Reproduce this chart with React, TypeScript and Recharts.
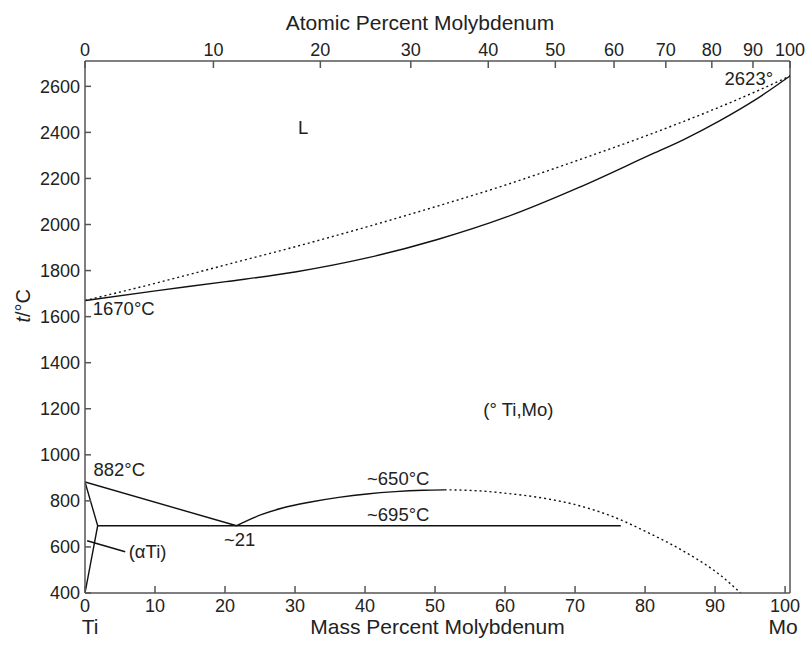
import React from "react";
import { LineChart, Line, XAxis, YAxis, ReferenceLine, ReferenceDot, Label } from "recharts";

const FONT = "'Liberation Sans', Arial, Helvetica, sans-serif";

// tick labels
const massTicks = [0, 10, 20, 30, 40, 50, 60, 70, 80, 90, 100];
const atomicTicks = [0, 10, 20, 30, 40, 50, 60, 70, 80, 90, 100];
const tempTicks = [400, 600, 800, 1000, 1200, 1400, 1600, 1800, 2000, 2200, 2400, 2600];

// atomic weights, for placing the atomic-percent ticks
const TI = 47.867;
const MO = 95.95;
const atomicToMass = (a: number) => ((a * MO) / (a * MO + (100 - a) * TI)) * 100;

// liquidus (dotted)
const liqMass = [0, 10, 20, 30, 40, 50, 60, 70, 80, 90, 95, 100];
const liqTemp = [1670, 1745, 1825, 1905, 1990, 2080, 2175, 2280, 2390, 2510, 2575, 2645];

// solidus (solid)
const solMass = [0, 10, 20, 30, 40, 50, 60, 70, 80, 85, 90, 95, 100];
const solTemp = [1670, 1712, 1752, 1795, 1855, 1935, 2035, 2160, 2300, 2370, 2450, 2540, 2645];

// alpha Ti boundaries
const alphaMass = [0, 1.8, 0];
const alphaTemp = [882, 692, 400];

// beta transus
const transusMass = [0, 21.5];
const transusTemp = [882, 692];

// monotectoid horizontal
const monoMass = [1.8, 76];
const monoTemp = [692, 692];

// miscibility gap, solid part
const gapMass = [21.5, 25, 28, 32, 36, 40, 44, 48, 51];
const gapTemp = [692, 740, 769, 795, 815, 830, 840, 846, 848];

// miscibility gap, dotted part
const gapDotMass = [51, 55, 60, 65, 70, 75, 80, 85, 90, 93];
const gapDotTemp = [848, 845, 832, 812, 780, 730, 660, 580, 480, 400];

// leader for (alpha Ti)
const leaderMass = [0.3, 5.7];
const leaderTemp = [627, 579];

const zip = (w: number[], t: number[]) => w.map((v, i) => ({ w: v, t: t[i] }));

const notes = [
  { w: 30.2, t: 2392, text: "L", anchor: "start" },
  { w: 1.1, t: 1607, text: "1670°C", anchor: "start" },
  { w: 97.6, t: 2606, text: "2623°", anchor: "end" },
  { w: 56.5, t: 1170, text: "(° Ti,Mo)", anchor: "start" },
  { w: 1.2, t: 906, text: "882°C", anchor: "start" },
  { w: 19.7, t: 605, text: "~21", anchor: "start" },
  { w: 6.2, t: 553, text: "(αTi)", anchor: "start" },
  { w: 40, t: 870, text: "~650°C", anchor: "start" },
  { w: 40, t: 712, text: "~695°C", anchor: "start" },
];

const AXIS = "#555";
const INK = "#222";

const BottomTick = (props: any) => {
  const { x, y, payload } = props;
  const v = payload.value;
  return (
    <g>
      <text x={x} y={y} dy="0.71em" textAnchor="middle" fontSize={18} fill={INK} fontFamily={FONT}>
        {v}
      </text>
      {v === 0 && (
        <text x={x + 5} y={y + 35} textAnchor="middle" fontSize={21} fill={INK} fontFamily={FONT}>
          Ti
        </text>
      )}
      {v === 100 && (
        <text x={x - 2} y={y + 35} textAnchor="middle" fontSize={21} fill={INK} fontFamily={FONT}>
          Mo
        </text>
      )}
    </g>
  );
};

export default function App() {
  const series = [
    { data: zip(liqMass, liqTemp), dash: "2 3", type: "monotone" },
    { data: zip(solMass, solTemp), dash: undefined, type: "monotone" },
    { data: zip(alphaMass, alphaTemp), dash: undefined, type: "linear" },
    { data: zip(transusMass, transusTemp), dash: undefined, type: "linear" },
    { data: zip(monoMass, monoTemp), dash: undefined, type: "linear" },
    { data: zip(gapMass, gapTemp), dash: undefined, type: "monotone" },
    { data: zip(gapDotMass, gapDotTemp), dash: "2 3", type: "monotone" },
    { data: zip(leaderMass, leaderTemp), dash: undefined, type: "linear" },
  ];

  return (
    <div style={{ width: 805, height: 646, background: "#fff" }}>
      <style>{"body{margin:0}"}</style>
      <LineChart width={805} height={646} margin={{ top: 0, right: 15, bottom: 0, left: 0 }}>
        <XAxis
          xAxisId="top"
          orientation="top"
          type="number"
          dataKey="w"
          domain={[0, 100]}
          ticks={atomicTicks.map(atomicToMass)}
          tickFormatter={(_v: number, i: number) => String(atomicTicks[i])}
          interval={0}
          height={61}
          tickSize={-7}
          tickMargin={12}
          allowDataOverflow
          axisLine={{ stroke: AXIS, strokeWidth: 1.5 }}
          tickLine={{ stroke: AXIS, strokeWidth: 1.5 }}
          tick={{ fontSize: 18, fill: INK, fontFamily: FONT }}
        >
          <Label
            content={() => (
              <text x={420} y={30} textAnchor="middle" fontSize={21} fill={INK} fontFamily={FONT}>
                Atomic Percent Molybdenum
              </text>
            )}
          />
        </XAxis>
        <XAxis
          xAxisId="mass"
          orientation="bottom"
          type="number"
          dataKey="w"
          domain={[0, 100.7]}
          ticks={massTicks}
          interval={0}
          height={53}
          tickSize={-7}
          tickMargin={13}
          allowDataOverflow
          axisLine={{ stroke: AXIS, strokeWidth: 1.5 }}
          tickLine={{ stroke: AXIS, strokeWidth: 1.5 }}
          tick={<BottomTick />}
        >
          <Label
            content={(p: any) => {
              const vb = p.viewBox || {};
              return (
                <text x={(vb.x ?? 85) + (vb.width ?? 705) / 2} y={(vb.y ?? 593) + 41} textAnchor="middle" fontSize={21} fill={INK} fontFamily={FONT}>
                  Mass Percent Molybdenum
                </text>
              );
            }}
          />
        </XAxis>
        <YAxis
          yAxisId="t"
          type="number"
          domain={[400, 2710]}
          ticks={tempTicks}
          interval={0}
          width={85}
          tickSize={-6}
          tickMargin={11}
          allowDataOverflow
          axisLine={{ stroke: AXIS, strokeWidth: 1.5 }}
          tickLine={{ stroke: AXIS, strokeWidth: 1.5 }}
          tick={{ fontSize: 18, fill: INK, fontFamily: FONT }}
        >
          <Label
            content={(p: any) => {
              const vb = p.viewBox || {};
              const cy = (vb.y ?? 61) + (vb.height ?? 532) * 0.46;
              const cx = 30;
              return (
                <text x={cx} y={cy} transform={`rotate(-90, ${cx}, ${cy})`} textAnchor="middle" fontSize={20} fill={INK} fontFamily={FONT}>
                  <tspan fontStyle="italic">t</tspan>/°C
                </text>
              );
            }}
          />
        </YAxis>
        <ReferenceLine xAxisId="top" yAxisId="t" x={100} stroke={AXIS} strokeWidth={1.5} />
        {series.map((s, i) => (
          <Line
            key={i}
            xAxisId="top"
            yAxisId="t"
            data={s.data}
            dataKey="t"
            type={s.type as any}
            stroke="#111"
            strokeWidth={1.4}
            strokeDasharray={s.dash}
            dot={false}
            activeDot={false}
            isAnimationActive={false}
          />
        ))}
        {notes.map((n) => (
          <ReferenceDot
            key={n.text}
            xAxisId="top"
            yAxisId="t"
            x={n.w}
            y={n.t}
            r={1}
            ifOverflow="visible"
            shape={(p: any) => (
              <text x={p.cx} y={p.cy} textAnchor={n.anchor as any} fontSize={18.5} fill={INK} fontFamily={FONT}>
                {n.text}
              </text>
            )}
          />
        ))}
      </LineChart>
    </div>
  );
}
